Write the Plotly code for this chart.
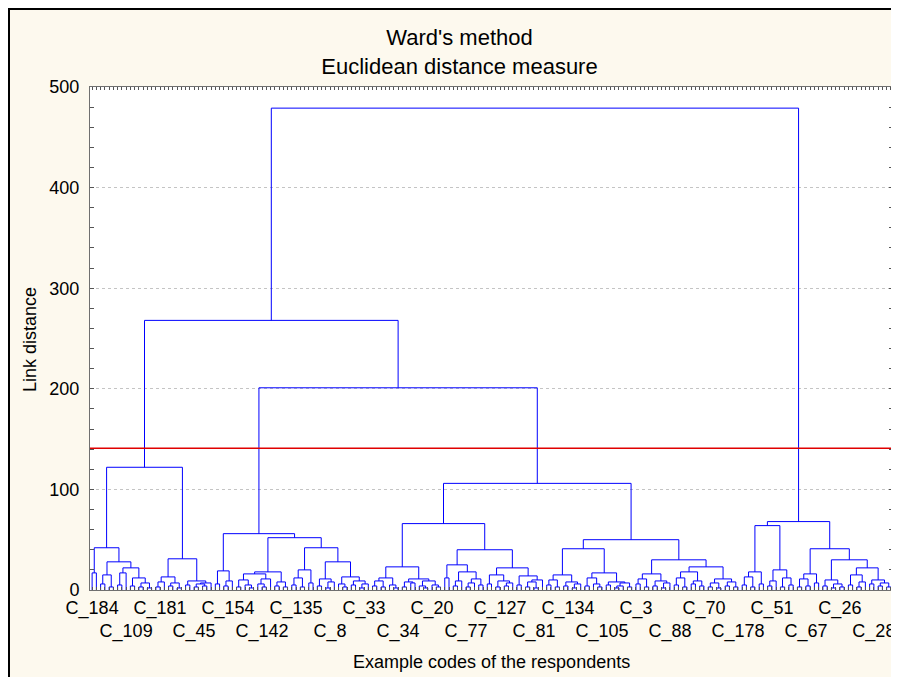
import plotly.graph_objects as go

# ---- data: merge heights between adjacent leaves (leaf order as drawn) ----
GAPS_A = [17, 42, 6, 15, 3, 28, 5, 17, 22, 4, 12, 3, 7, 2,
          122,
          3, 8, 13, 4, 7, 2, 31, 5, 9, 3, 6, 4, 7]
JOIN_A_B = 268
GAPS_B1 = [6, 19, 4, 9, 56,
           3, 10, 5, 2, 16, 6, 3, 11, 18, 4, 8, 3,
           52,
           5, 12, 3, 20, 7,
           42,
           4, 11, 2, 8, 28, 6, 3, 13, 5, 9, 2, 6]
JOIN_B1_B2 = 201
GAPS_B2 = [4, 9, 3, 12, 5, 2, 23, 3, 8, 7, 11, 4, 2, 9, 5, 3,
           66,
           12, 25, 4, 9, 18, 3, 7, 11, 5,
           40,
           6, 15, 3, 9, 4, 7, 22, 5, 14, 3, 8, 2, 10,
           106,
           5, 10, 3, 15, 4, 8, 2, 6, 41, 4, 12, 6, 3, 17, 5, 8, 2, 4, 7, 3,
           50,
           6, 11, 3, 16, 4, 9, 2, 7, 30, 5, 12, 3, 18, 6, 9, 4, 23, 3, 7, 2, 11, 4, 8, 3]
ROOT_HEIGHT = 479
GAPS_C = [5, 13, 3, 18, 6, 64, 4, 9, 20, 3, 12, 5,
          68,
          3, 11, 4, 16, 7, 41, 4, 10, 2, 6, 3, 30, 5, 15, 3, 8, 22, 6, 10, 4, 7, 3]
CUT_HEIGHT = 141
LABEL_STEP = 8
LEAF_LABELS = ["C_184", "C_109", "C_181", "C_45", "C_154", "C_142", "C_135", "C_8",
               "C_33", "C_34", "C_20", "C_77", "C_127", "C_81", "C_134", "C_105",
               "C_3", "C_88", "C_70", "C_178", "C_51", "C_67", "C_26", "C_28"]
Y_TICKS = [0, 100, 200, 300, 400, 500]

gaps = GAPS_A + [JOIN_A_B] + GAPS_B1 + [JOIN_B1_B2] + GAPS_B2 + [ROOT_HEIGHT] + GAPS_C
n = len(gaps) + 1

xs, ys = [], []


def build(lo, hi):
    if lo == hi:
        return float(lo), 0.0
    seg = gaps[lo:hi]
    k = lo + max(range(len(seg)), key=lambda j: seg[j])
    h = gaps[k]
    xl, hl = build(lo, k)
    xr, hr = build(k + 1, hi)
    xs.extend([xl, xl, xr, xr, None])
    ys.extend([hl, h, h, hr, None])
    return (xl + xr) / 2.0, h


build(0, n - 1)

tickvals = list(range(n))
ticktext = []
for i in range(n):
    if i % LABEL_STEP == 0 and i // LABEL_STEP < len(LEAF_LABELS):
        j = i // LABEL_STEP
        lab = LEAF_LABELS[j]
        ticktext.append(lab if j % 2 == 0 else "<br>" + lab)
    else:
        ticktext.append("")

FONT = "Liberation Sans, Arial, sans-serif"
W, H = 899, 677
ML, MT = 82, 79
PW, PH = 803, 503
MR, MB = W - ML - PW, H - MT - PH


def px(xp):
    return (xp - ML) / PW


def py(yp):
    return (MT + PH - yp) / PH


fig = go.Figure()
fig.add_trace(go.Scatter(x=xs, y=ys, mode="lines",
                         line=dict(color="#0000ff", width=1),
                         hoverinfo="skip", showlegend=False))

fig.add_shape(type="line", xref="paper", yref="y", x0=0, x1=1,
              y0=CUT_HEIGHT, y1=CUT_HEIGHT, line=dict(color="#e00000", width=1.5))

# outer frame of the chart (left and top edges)
fig.add_shape(type="line", xref="paper", yref="paper", x0=px(1), x1=px(1),
              y0=py(0), y1=py(H + 20), line=dict(color="black", width=2), layer="above")
fig.add_shape(type="line", xref="paper", yref="paper", x0=px(0), x1=px(W + 20),
              y0=py(1), y1=py(1), line=dict(color="black", width=2), layer="above")

fig.add_annotation(text="Example codes of the respondents", xref="paper", yref="paper",
                   x=0.5, y=py(654), xanchor="center", yanchor="middle", showarrow=False,
                   font=dict(family=FONT, size=18, color="black"))
fig.add_annotation(text="Link distance", xref="paper", yref="paper",
                   x=px(22), y=py(332), xanchor="center", yanchor="middle", showarrow=False,
                   textangle=-90, font=dict(family=FONT, size=18, color="black"))

fig.update_layout(
    width=W, height=H,
    margin=dict(l=ML, r=MR, t=MT, b=MB, pad=0),
    paper_bgcolor="#fdf9ee", plot_bgcolor="white",
    title=dict(text="Ward's method<br>Euclidean distance measure",
               x=451.5 / W, xref="container", xanchor="center",
               y=1 - 37 / H, yref="container", yanchor="middle",
               font=dict(family=FONT, size=22, color="black")),
    font=dict(family=FONT, size=18, color="black"),
    showlegend=False,
)
fig.update_xaxes(range=[-0.5, n - 0.5], tickmode="array", tickvals=tickvals,
                 ticktext=ticktext, tickangle=0, ticks="inside", ticklen=3,
                 tickcolor="#555555", showline=True, linecolor="#707070", linewidth=1,
                 mirror="ticks", showgrid=False, zeroline=False,
                 tickfont=dict(family=FONT, size=18, color="black"),
                 ticklabelstandoff=1, ticklabeloverflow="allow")
fig.update_yaxes(range=[0, 500], tickmode="array", tickvals=Y_TICKS,
                 ticks="inside", ticklen=4, tickcolor="#555555",
                 minor=dict(dtick=20, ticks="inside", ticklen=4, tickcolor="#555555",
                            showgrid=False),
                 showline=True, linecolor="#707070", linewidth=1, mirror="allticks",
                 showgrid=True, gridcolor="#c4c4c4", griddash="dot", gridwidth=1,
                 zeroline=False, tickfont=dict(family=FONT, size=18, color="black"),
                 ticklabelstandoff=6)

fig.write_html("out.html",
               post_script="document.documentElement.style.overflow='hidden';"
                           "document.body.style.overflow='hidden';")
